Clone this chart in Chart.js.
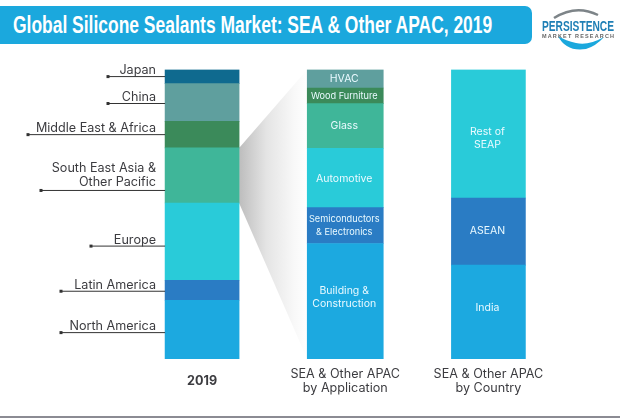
<!DOCTYPE html>
<html>
<head>
<meta charset="utf-8">
<title>Global Silicone Sealants Market</title>
<script src="https://cdn.jsdelivr.net/npm/chart.js@4"></script>
<style>
  html, body { margin: 0; padding: 0; background: #fff; }
  #page { position: relative; width: 620px; height: 418px; overflow: hidden; }
  #statsChart { position: absolute; left: 0; top: 0; }
  #banner {
    position: absolute; left: 0; top: 6px; width: 532px; height: 38px;
    background: #1ba8dd; border-radius: 0 7px 7px 0;
  }
  #banner span {
    position: absolute; left: 13px; top: 5px; white-space: nowrap; color: #fff;
    font: bold 24px "Liberation Sans", sans-serif;
    transform-origin: left center;
  }
  #footer { position: absolute; left: 0; top: 416px; width: 620px; height: 2px; background: #8b8b93; }
  #logo { position: absolute; left: 538px; top: 6px; }
</style>
</head>
<body>
<div id="page">
  <canvas id="statsChart" width="620" height="418"></canvas>
  <div id="banner"><span id="bannerText">Global Silicone Sealants Market: SEA &amp; Other APAC, 2019</span></div>
  <svg id="logo" width="80" height="50" viewBox="0 0 80 50">
    <path d="M16 12 Q38 -2 60 9" fill="none" stroke="#7d8488" stroke-width="2.5"/>
    <path d="M20 30 Q28 46 48 43 Q58 40 66 31 Q50 40 38 37 Q28 35 20 30 Z" fill="#1ba8dd"/>
    <text x="4" y="25" font-family="Liberation Sans" font-size="14" font-weight="bold" fill="#1f7fb5" textLength="72" lengthAdjust="spacingAndGlyphs">PERSISTENCE</text>
    <text x="4" y="32" font-family="Liberation Sans" font-size="5.5" font-weight="bold" fill="#666" textLength="72" lengthAdjust="spacing">MARKET RESEARCH</text>
  </svg>
  <div id="footer"></div>
</div>
<script>
// x axis groups
const groups = ["2019", ["SEA & Other APAC", "by Application"], ["SEA & Other APAC", "by Country"]];

// all stacks go bottom to top, values are % of bar height
const regions = ["North America", "Latin America", "Europe", ["South East Asia &", "Other Pacific"], "Middle East & Africa", "China", "Japan"];
const regionShares = [20.3, 6.9, 26.7, 19.0, 9.2, 13.0, 4.9];
const regionColors = ["#1ca9e0", "#2a7cc4", "#29cbd9", "#3fb699", "#3b8a5a", "#5f9f9e", "#0f6a8f"];

const applications = [["Building &", "Construction"], ["Semiconductors", "& Electronics"], "Automotive", "Glass", "Wood Furniture", "HVAC"];
const applicationShares = [39.9, 12.4, 20.5, 15.4, 5.4, 6.4];
const applicationColors = ["#1ca9e0", "#2a7cc4", "#29cbd9", "#3fb699", "#3b8a5a", "#5f9f9e"];

const countries = ["India", "ASEAN", ["Rest of", "SEAP"]];
const countryShares = [32.4, 23.2, 44.4];
const countryColors = ["#1ca9e0", "#2a7cc4", "#29cbd9"];

const labelFont = "Inter, sans-serif";
const textColor = "#3c3c40";

// squeeze the title to the width it has in the original
const bannerText = document.getElementById("bannerText");
bannerText.style.transform = `scaleX(${479 / bannerText.offsetWidth})`;

// where each leader line starts (left x) and how far it sits from segment middle
const leaderStyle = [
  { x: 61, dy: 3, textDy: -6 },
  { x: 61, dy: 1, textDy: -6 },
  { x: 91, dy: 4.5, textDy: -6 },
  { x: 41, dy: 15, textDy: -8 },
  { x: 28, dy: 0, textDy: -6 },
  { x: 108, dy: 1, textDy: -6 },
  { x: 108, dy: 0, textDy: -6 },
];

// build one dataset per stacked segment
function makeDatasets(names, shares, colors, groupIndex) {
  return names.map((name, i) => {
    let data = [null, null, null];
    data[groupIndex] = shares[i];
    return {
      label: Array.isArray(name) ? name.join(" ") : name,
      segmentName: name,
      groupIndex: groupIndex,
      segmentIndex: i,
      data: data,
      backgroundColor: colors[i],
      barThickness: groupIndex === 1 ? 76 : 74,
    };
  });
}

function datasetBar(chart, groupIndex, segmentIndex) {
  let found = null;
  chart.data.datasets.forEach((ds, d) => {
    if (ds.groupIndex === groupIndex && ds.segmentIndex === segmentIndex) {
      found = chart.getDatasetMeta(d).data[groupIndex];
    }
  });
  return found;
}

// grey wedge from South East Asia segment out to the application bar
const funnelPlugin = {
  id: "funnel",
  beforeDatasetsDraw(chart) {
    const ctx = chart.ctx;
    const from = datasetBar(chart, 0, 3);
    const to = datasetBar(chart, 1, 0);
    const left = from.x + from.width / 2;
    const right = to.x - to.width / 2;
    const grad = ctx.createLinearGradient(left, 0, right, 0);
    grad.addColorStop(0, "#bdbdbd");
    grad.addColorStop(0.4, "#e4e4e4");
    grad.addColorStop(0.8, "#f8f8f8");
    grad.addColorStop(1, "#ffffff");
    ctx.save();
    ctx.fillStyle = grad;
    ctx.beginPath();
    ctx.moveTo(left, from.y);
    ctx.lineTo(right, chart.scales.y.getPixelForValue(100));
    ctx.lineTo(right, chart.scales.y.getPixelForValue(0));
    ctx.lineTo(left, from.base);
    ctx.closePath();
    ctx.fill();
    ctx.restore();
  },
};

const segmentLabelPlugin = {
  id: "segmentLabels",
  afterDatasetsDraw(chart) {
    const ctx = chart.ctx;
    ctx.save();
    ctx.textAlign = "center";
    ctx.textBaseline = "middle";

    // white text inside bars 2 and 3
    const nudge = { "Building & Construction": -4, "Rest of SEAP": 4.5, India: -4, Automotive: 1, ASEAN: -1 };
    chart.data.datasets.forEach((ds, d) => {
      if (ds.groupIndex === 0) return;
      const bar = chart.getDatasetMeta(d).data[ds.groupIndex];
      const lines = Array.isArray(ds.segmentName) ? ds.segmentName : [ds.segmentName];
      const middle = (bar.y + bar.base) / 2 + (nudge[ds.label] || 0);
      const small = ds.label === "Wood Furniture" || ds.label.startsWith("Semi");
      ctx.font = (small ? "9.2px " : "10.5px ") + labelFont;
      ctx.fillStyle = "#eafaff";
      lines.forEach((line, i) => {
        ctx.fillText(line, bar.x - 1, middle + (i - (lines.length - 1) / 2) * 13.5);
      });
    });

    // leader lines and names left of the first bar
    ctx.textAlign = "right";
    ctx.font = "12.6px " + labelFont;
    regions.forEach((name, i) => {
      const bar = datasetBar(chart, 0, i);
      const style = leaderStyle[i];
      const y = (bar.y + bar.base) / 2 + style.dy;
      const x2 = bar.x - bar.width / 2;
      ctx.strokeStyle = "#333";
      ctx.lineWidth = 1;
      ctx.beginPath();
      ctx.moveTo(style.x, y);
      ctx.lineTo(x2, y);
      ctx.stroke();
      ctx.fillStyle = "#333";
      ctx.fillRect(style.x - 1.5, y - 1.5, 3, 3);
      ctx.fillStyle = textColor;
      const lines = Array.isArray(name) ? name : [name];
      lines.forEach((line, k) => {
        ctx.fillText(line, 156, y + style.textDy - (lines.length - 1 - k) * 14);
      });
    });
    ctx.restore();
  },
};

const ctx = document.getElementById("statsChart").getContext("2d");

let statsChart = new Chart(ctx, {
  type: "bar",
  data: {
    labels: groups,
    datasets: [
      ...makeDatasets(regions, regionShares, regionColors, 0),
      ...makeDatasets(applications, applicationShares, applicationColors, 1),
      ...makeDatasets(countries, countryShares, countryColors, 2),
    ],
  },
  options: {
    responsive: false,
    animation: false,
    layout: { padding: { left: 130.5, right: 60, top: 69.5, bottom: 0 } },
    scales: {
      x: {
        stacked: true,
        grid: { display: false },
        border: { display: false },
        afterFit: (axis) => { axis.height = 59; },
        ticks: {
          color: textColor,
          padding: 7,
          crossAlign: "center",
          maxRotation: 0,
          autoSkip: false,
          font: (c) => ({
            family: labelFont,
            size: 12.6,
            weight: c.index === 0 ? "bold" : "normal",
            lineHeight: 1.15,
          }),
        },
      },
      y: { stacked: true, display: false, min: 0, max: 100 },
    },
    plugins: {
      legend: { display: false },
      title: { display: false },
      tooltip: { enabled: false },
    },
  },
  plugins: [funnelPlugin, segmentLabelPlugin],
});
</script>
</body>
</html>
